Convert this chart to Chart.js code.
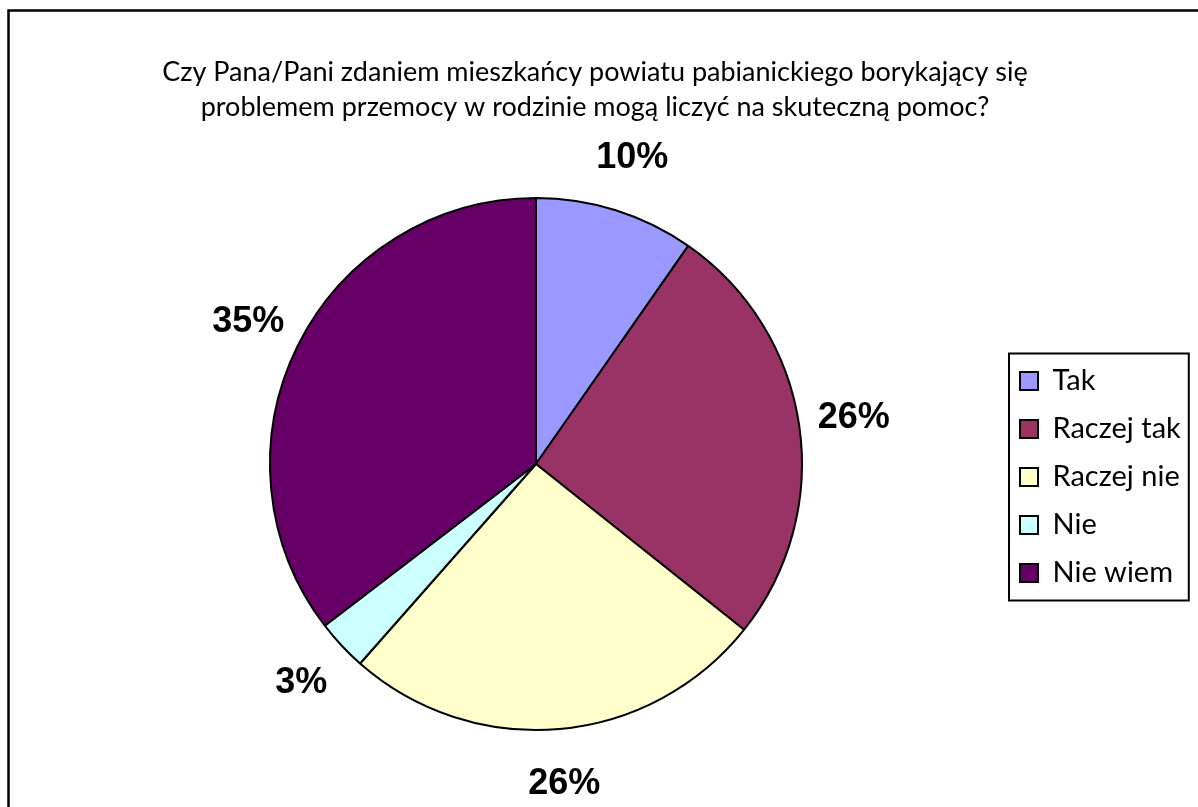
<!DOCTYPE html>
<html>
<head>
<meta charset="utf-8">
<script src="https://cdn.jsdelivr.net/npm/chart.js@4/dist/chart.umd.min.js"></script>
<style>
  html, body { margin: 0; padding: 0; background: #fff; overflow: hidden; }
</style>
</head>
<body>
<canvas id="pieChart" width="1198" height="807"></canvas>
<script>
const titleLines = [
  'Czy Pana/Pani zdaniem mieszkańcy powiatu pabianickiego borykający się',
  'problemem przemocy w rodzinie mogą liczyć na skuteczną pomoc?',
];
const categories = ['Tak', 'Raczej tak', 'Raczej nie', 'Nie', 'Nie wiem'];
const shares = [9.7, 26.0, 25.8, 3.1, 35.4];
const sliceColors = ['#9999FF', '#993366', '#FFFFCC', '#CCFFFF', '#660066'];

const LEGEND_FONT = 29;
const LEGEND_PAD = 19;
const LEGEND_BOX = 18;

// legend sits right of the chart area; work out its width so the pie lands where it should
const probe = document.createElement('canvas').getContext('2d');
probe.font = LEGEND_FONT + 'px Lato';
const longest = Math.max(...categories.map((c) => probe.measureText(c).width));
const legendWidth = LEGEND_PAD + LEGEND_BOX + LEGEND_FONT / 2 + longest + 10;
const areaLeft = 71;
const areaRight = 1020 - LEGEND_PAD;

// two-line title centred over the whole frame
const frameTitle = {
  id: 'frameTitle',
  afterDraw(chart) {
    const { ctx } = chart;
    ctx.save();
    ctx.font = '27px Lato';
    ctx.fillStyle = '#000';
    ctx.textAlign = 'center';
    ctx.textBaseline = 'middle';
    titleLines.forEach((line, i) => ctx.fillText(line, 595, 72 + i * 35));
    ctx.restore();
  },
};

// percent labels outside each slice
const sliceLabels = {
  id: 'sliceLabels',
  afterDatasetsDraw(chart) {
    const { ctx } = chart;
    const meta = chart.getDatasetMeta(0);
    const total = shares.reduce((a, b) => a + b, 0);
    ctx.save();
    ctx.font = 'bold 36px "Liberation Sans", Arial, sans-serif';
    ctx.fillStyle = '#000';
    ctx.textAlign = 'center';
    ctx.textBaseline = 'middle';
    meta.data.forEach((arc, i) => {
      const { x, y, startAngle, endAngle, outerRadius } = arc.getProps(
        ['x', 'y', 'startAngle', 'endAngle', 'outerRadius'], true);
      const mid = (startAngle + endAngle) / 2;
      const d = outerRadius + 55;
      ctx.fillText(Math.round((shares[i] / total) * 100) + '%',
        x + Math.cos(mid) * d, y + Math.sin(mid) * d);
    });
    ctx.restore();
  },
};

// outer frame and box round the legend
const frames = {
  id: 'frames',
  afterDraw(chart) {
    const { ctx } = chart;
    ctx.save();
    ctx.strokeStyle = '#000';
    ctx.lineWidth = 2.5;
    ctx.strokeRect(8.5, 10.5, 1400, 1000);
    const boxes = chart.legend.legendHitBoxes;
    if (boxes && boxes.length) {
      const left = Math.min(...boxes.map((b) => b.left)) - 11;
      const right = Math.max(...boxes.map((b) => b.left + b.width)) + 8;
      const top = boxes[0].top - 13;
      const last = boxes[boxes.length - 1];
      const bottom = last.top + last.height + 13;
      ctx.lineWidth = 2;
      ctx.strokeRect(left, top, right - left, bottom - top);
    }
    ctx.restore();
  },
};

Chart.defaults.color = '#000';

new Chart(document.getElementById('pieChart'), {
  type: 'pie',
  data: {
    labels: categories,
    datasets: [
      {
        data: shares,
        backgroundColor: sliceColors,
        borderColor: '#000',
        borderWidth: 2,
      },
    ],
  },
  options: {
    responsive: false,
    animation: false,
    layout: {
      padding: { left: areaLeft, right: 1198 - areaRight - legendWidth, top: 197, bottom: 76 },
    },
    plugins: {
      tooltip: { enabled: false },
      title: { display: false },
      legend: {
        position: 'right',
        fullSize: false,
        align: 'center',
        title: { display: true, text: ' ', font: { size: 10 }, padding: { top: 0, bottom: 14 } },
        labels: {
          boxWidth: LEGEND_BOX,
          boxHeight: LEGEND_BOX,
          padding: LEGEND_PAD,
          color: '#000',
          font: { family: 'Lato', size: LEGEND_FONT },
        },
      },
    },
  },
  plugins: [sliceLabels, frameTitle, frames],
});
</script>
</body>
</html>
